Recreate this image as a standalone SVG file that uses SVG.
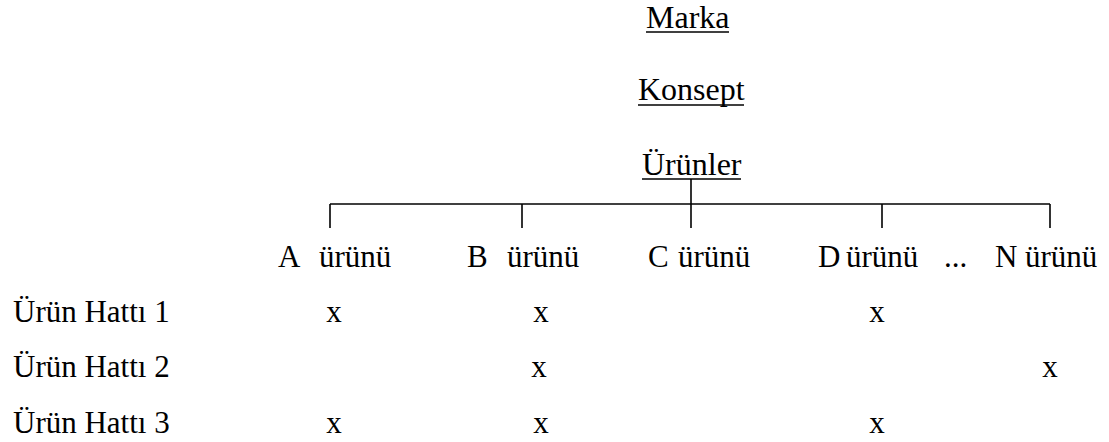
<svg xmlns="http://www.w3.org/2000/svg" width="1109" height="442" viewBox="0 0 1109 442">
  <style>
    text { font-family: "Liberation Serif", "Times New Roman", serif; fill: #000; }
    .head { font-size: 32px; }
    .lbl { font-size: 31px; }
    .ul { stroke: #000; stroke-width: 1.6; }
    .tree { stroke: #000; stroke-width: 1.6; fill: none; }
  </style>
  <rect width="1109" height="442" fill="#fff"/>

  <!-- hierarchy headings -->
  <g id="marka">
    <text class="head" x="646" y="28">Marka</text>
    <line class="ul" x1="646" y1="32" x2="729" y2="32"/>
  </g>
  <g id="konsept">
    <text class="head" x="638" y="100">Konsept</text>
    <line class="ul" x1="638" y1="105" x2="744" y2="105"/>
  </g>
  <g id="urunler">
    <text class="head" x="642" y="175">Ürünler</text>
    <line class="ul" x1="642" y1="179" x2="741" y2="179"/>
  </g>

  <!-- branching lines -->
  <g id="connectors">
    <line class="tree" x1="691" y1="179" x2="691" y2="228"/>
    <line class="tree" x1="330" y1="204" x2="1050" y2="204"/>
    <line class="tree" x1="330" y1="204" x2="330" y2="228"/>
    <line class="tree" x1="522" y1="204" x2="522" y2="228"/>
    <line class="tree" x1="882" y1="204" x2="882" y2="228"/>
    <line class="tree" x1="1050" y1="204" x2="1050" y2="228"/>
  </g>

  <!-- product columns -->
  <g id="urun-a"><text class="lbl" y="267"><tspan x="278">A</tspan><tspan x="319">ürünü</tspan></text></g>
  <g id="urun-b"><text class="lbl" y="267"><tspan x="467">B</tspan><tspan x="507">ürünü</tspan></text></g>
  <g id="urun-c"><text class="lbl" y="267"><tspan x="648">C</tspan><tspan x="678">ürünü</tspan></text></g>
  <g id="urun-d"><text class="lbl" y="267"><tspan x="818">D</tspan><tspan x="846">ürünü</tspan></text></g>
  <g id="ellipsis"><text class="lbl" x="944" y="267">...</text></g>
  <g id="urun-n"><text class="lbl" y="267"><tspan x="995">N</tspan><tspan x="1025">ürünü</tspan></text></g>

  <!-- product lines -->
  <g id="hat-1">
    <text class="lbl" x="13" y="322">Ürün Hattı 1</text>
    <text class="lbl" x="334" y="322" text-anchor="middle">x</text>
    <text class="lbl" x="541" y="322" text-anchor="middle">x</text>
    <text class="lbl" x="877" y="322" text-anchor="middle">x</text>
  </g>
  <g id="hat-2">
    <text class="lbl" x="13" y="377">Ürün Hattı 2</text>
    <text class="lbl" x="539" y="377" text-anchor="middle">x</text>
    <text class="lbl" x="1050" y="377" text-anchor="middle">x</text>
  </g>
  <g id="hat-3">
    <text class="lbl" x="13" y="433">Ürün Hattı 3</text>
    <text class="lbl" x="334" y="433" text-anchor="middle">x</text>
    <text class="lbl" x="541" y="433" text-anchor="middle">x</text>
    <text class="lbl" x="877" y="433" text-anchor="middle">x</text>
  </g>
</svg>
